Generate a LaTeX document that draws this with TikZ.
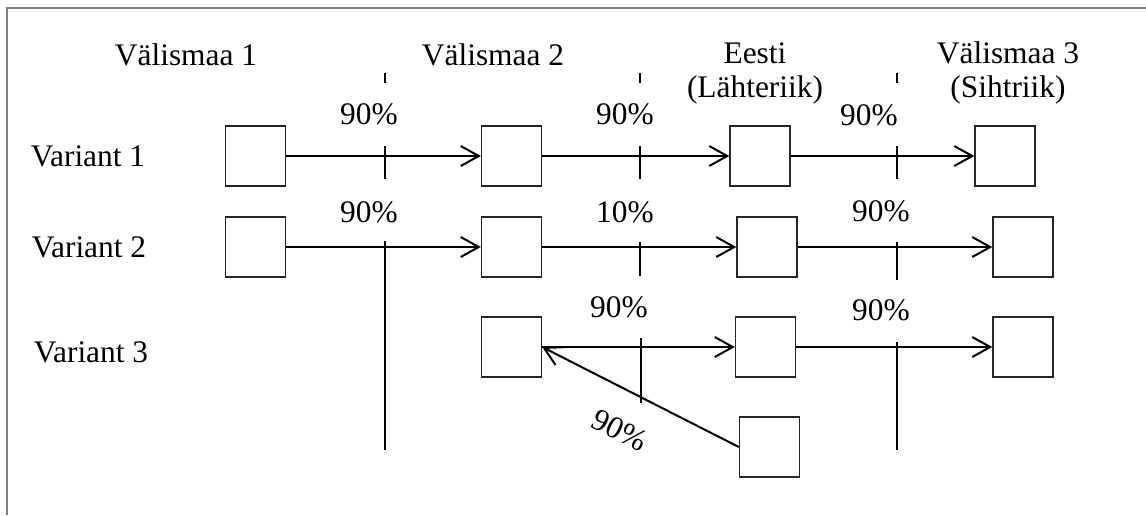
\documentclass[tikz,border=0pt]{standalone}
\usepackage{fontspec}
\setmainfont{Liberation Serif}
\usetikzlibrary{arrows.meta}

\begin{document}
\begin{tikzpicture}[x=0.5pt, y=-0.5pt,
        font=\fontsize{15.7}{17}\selectfont,
        boxnode/.style={rectangle, draw=black!85, line width=0.7pt, minimum size=30pt, inner sep=0pt},
        textnode/.style={anchor=base, inner sep=0pt, align=center},
        flowline/.style={-{Straight Barb[length=9pt,width=10pt]}, line width=1pt},
        markline/.style={line width=1pt},
    ]
    \useasboundingbox (0,0) rectangle (1146,515);
    \draw[black!50, line width=1.2pt] (7,515) -- (7,8) -- (1146,8);
    %Headers
    \node[textnode] (maa1node) at (186,65) {Välismaa 1};
    \node[textnode] (maa2node) at (493,65) {Välismaa 2};
    \node[textnode] (eestinode) at (755,97) {Eesti\\(Lähteriik)};
    \node[textnode] (maa3node) at (1008,97) {Välismaa 3\\(Sihtriik)};
    \node[textnode] (var1node) at (88,166) {Variant 1};
    \node[textnode] (var2node) at (89,257) {Variant 2};
    \node[textnode] (var3node) at (91,362) {Variant 3};
    %Boxes
    \node[boxnode] (sq11node) at (255.5,156) {};
    \node[boxnode] (sq12node) at (511.5,156) {};
    \node[boxnode] (sq13node) at (760,156) {};
    \node[boxnode] (sq14node) at (1005,156) {};
    \node[boxnode] (sq21node) at (255.5,247) {};
    \node[boxnode] (sq22node) at (511.5,247) {};
    \node[boxnode] (sq23node) at (767,247) {};
    \node[boxnode] (sq24node) at (1023,247) {};
    \node[boxnode] (sq32node) at (511.5,347) {};
    \node[boxnode] (sq33node) at (765.5,347) {};
    \node[boxnode] (sq34node) at (1023,347) {};
    \node[boxnode] (sq35node) at (769.5,447) {};
    %Shares
    \node[textnode] (p11node) at (369,124) {90\%};
    \node[textnode] (p12node) at (625,124) {90\%};
    \node[textnode] (p13node) at (869,125) {90\%};
    \node[textnode] (p21node) at (369,222) {90\%};
    \node[textnode] (p22node) at (625,222) {10\%};
    \node[textnode] (p23node) at (881,221) {90\%};
    \node[textnode] (p32node) at (619,317) {90\%};
    \node[textnode] (p33node) at (881,320) {90\%};
    \node[inner sep=0pt, rotate=-27] (p35node) at (620,430) {90\%};
    %Borders
    \draw[markline] (385,73) -- (385,83);
    \draw[markline] (640,73) -- (640,83);
    \draw[markline] (897,73) -- (897,83);
    \draw[markline] (385,146) -- (385,179);
    \draw[markline] (640,146) -- (640,179);
    \draw[markline] (897,146) -- (897,179);
    \draw[markline] (385,241) -- (385,450);
    \draw[markline] (640,242) -- (640,276);
    \draw[markline] (897,242) -- (897,280);
    \draw[markline] (641,338) -- (641,403);
    \draw[markline] (897,342) -- (897,450);
    %Lines
    \draw[flowline] (sq11node.east) -- (sq12node.west);
    \draw[flowline] (sq12node.east) -- (sq13node.west);
    \draw[flowline] (sq13node.east) -- (sq14node.west);
    \draw[flowline] (sq21node.east) -- (sq22node.west);
    \draw[flowline] (sq22node.east) -- (sq23node.west);
    \draw[flowline] (sq23node.east) -- (sq24node.west);
    \draw[flowline] (sq32node.east) -- (sq33node.west);
    \draw[flowline] (sq33node.east) -- (sq34node.west);
    \draw[flowline] (sq35node.west) -- (sq32node.east);
\end{tikzpicture}
\end{document}
